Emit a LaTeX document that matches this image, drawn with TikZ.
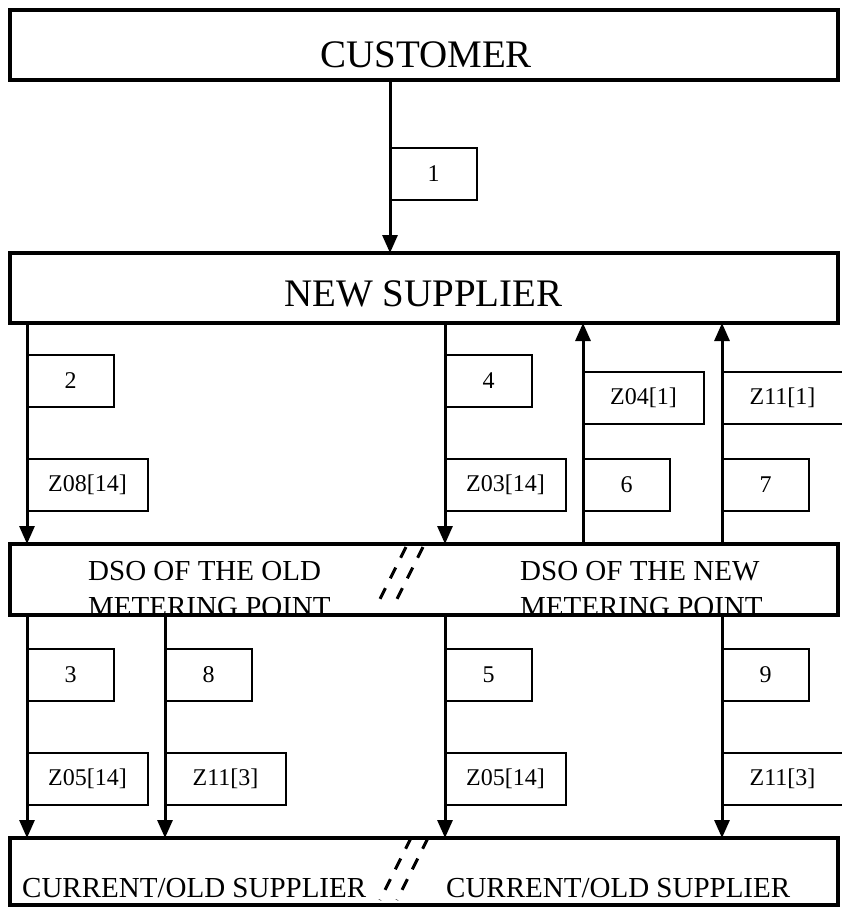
\documentclass[tikz,border=0pt]{standalone}
\usepackage{fontspec}
\setmainfont{Liberation Serif}
\usetikzlibrary{arrows.meta}
\begin{document}
\begin{tikzpicture}[x=1pt,y=-1pt,
  mainbox/.style={draw, line width=4pt, minimum width=828pt, inner sep=0pt, outer sep=0pt, anchor=north west},
  bigtxt/.style={font=\fontsize{39}{39}\selectfont, inner sep=0pt, anchor=base west},
  midtxt/.style={font=\fontsize{29}{29}\selectfont, inner sep=0pt, anchor=base west},
  lbl/.style={draw, line width=2pt, font=\fontsize{24}{24}\selectfont, minimum height=52pt, inner sep=0pt, outer sep=0pt, anchor=north west},
  narrow/.style={minimum width=87pt},
  wide/.style={minimum width=121pt},
  arr/.style={line width=3pt, -{Triangle[width=15pt,length=18pt]}},
  brk/.style={line width=3pt, dash pattern=on 12pt off 11pt}]
\useasboundingbox (0,0) rectangle (841,907);

% texts
\node[bigtxt] (custtxt) at (320,67) {CUSTOMER};
\node[bigtxt] (newtxt) at (284,306) {NEW SUPPLIER};
\node[midtxt] (dsoA1) at (88,580) {DSO OF THE OLD};
\node[midtxt] (dsoA2) at (88,616) {METERING POINT};
\node[midtxt] (dsoB1) at (520,580) {DSO OF THE NEW};
\node[midtxt] (dsoB2) at (520,616) {METERING POINT};
\node[midtxt] (curA) at (22,897) {CURRENT/OLD SUPPLIER};
\node[midtxt] (curB) at (446,897) {CURRENT/OLD SUPPLIER};

% main boxes
\node[mainbox, minimum height=70pt] (cust) at (10,10) {};
\node[mainbox, minimum height=70pt] (newsup) at (10,253) {};
\node[mainbox, minimum height=71pt] (dso) at (10,544) {};
\node[mainbox, minimum height=67pt] (cur) at (10,838) {};

% arrow columns
\coordinate (c1) at (390,0);
\coordinate (cA) at (27,0);
\coordinate (cB) at (165,0);
\coordinate (cC) at (445,0);
\coordinate (cD) at (583,0);
\coordinate (cE) at (722,0);

% arrows
\draw[arr] (cust.south -| c1) -- (newsup.north -| c1);
\draw[arr] (newsup.south -| cA) -- (dso.north -| cA);
\draw[arr] (newsup.south -| cC) -- (dso.north -| cC);
\draw[arr] (dso.north -| cD) -- (newsup.south -| cD);
\draw[arr] (dso.north -| cE) -- (newsup.south -| cE);
\draw[arr] (dso.south -| cA) -- (cur.north -| cA);
\draw[arr] (dso.south -| cB) -- (cur.north -| cB);
\draw[arr] (dso.south -| cC) -- (cur.north -| cC);
\draw[arr] (dso.south -| cE) -- (cur.north -| cE);

% labels
\node[lbl, narrow] (l1) at (390,148) {1};
\node[lbl, narrow] (l2) at (27,355) {2};
\node[lbl, wide] (lz08) at (27,459) {Z08[14]};
\node[lbl, narrow] (l4) at (445,355) {4};
\node[lbl, wide] (lz03) at (445,459) {Z03[14]};
\node[lbl, wide] (lz04) at (583,372) {Z04[1]};
\node[lbl, narrow] (l6) at (583,459) {6};
\node[lbl, wide] (lz11a) at (722,372) {Z11[1]};
\node[lbl, narrow] (l7) at (722,459) {7};
\node[lbl, narrow] (l3) at (27,649) {3};
\node[lbl, narrow] (l8) at (165,649) {8};
\node[lbl, narrow] (l5) at (445,649) {5};
\node[lbl, narrow] (l9) at (722,649) {9};
\node[lbl, wide] (lz05a) at (27,753) {Z05[14]};
\node[lbl, wide] (lz11b) at (165,753) {Z11[3]};
\node[lbl, wide] (lz05b) at (445,753) {Z05[14]};
\node[lbl, wide] (lz11c) at (722,753) {Z11[3]};

% break marks
\draw[brk] (406,547) -- (376,607);
\draw[brk] (423,547) -- (393,607);
\draw[brk] (411,838) -- (380,900);
\draw[brk] (428,838) -- (397,900);
\end{tikzpicture}
\end{document}
